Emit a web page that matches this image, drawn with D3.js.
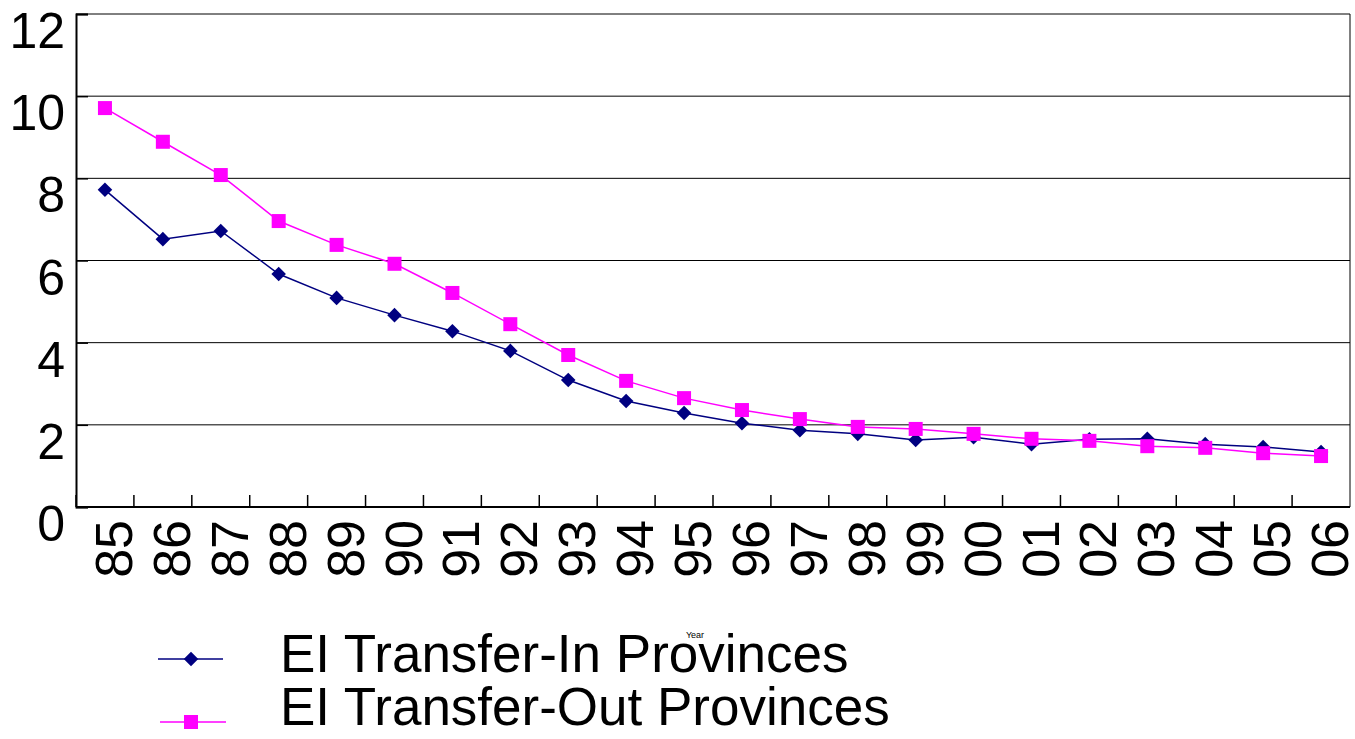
<!DOCTYPE html>
<html>
<head>
<meta charset="utf-8">
<script src="https://cdn.jsdelivr.net/npm/d3@7"></script>
<style>
  html, body { margin: 0; padding: 0; background: #fff; }
  svg { display: block; }
  text { font-family: "Liberation Sans", Arial, sans-serif; fill: #000; }
</style>
</head>
<body>
<svg id="chart" width="1355" height="739"></svg>
<script>
const years = ["85","86","87","88","89","90","91","92","93","94","95","96","97","98","99","00","01","02","03","04","05","06"];
const transferIn  = [7.72,6.52,6.72,5.67,5.09,4.67,4.28,3.80,3.09,2.58,2.29,2.04,1.87,1.78,1.63,1.70,1.53,1.65,1.66,1.53,1.46,1.34];
const transferOut = [9.71,8.89,8.08,6.96,6.38,5.92,5.21,4.45,3.70,3.07,2.65,2.36,2.14,1.95,1.90,1.78,1.66,1.61,1.48,1.44,1.31,1.24];
const yTicks = [0,2,4,6,8,10,12];
const seriesNames = ["EI Transfer-In Provinces","EI Transfer-Out Provinces"];
const xTitle = "Year";

const svg = d3.select("#chart");
const L = 76, R = 1350, T = 14, B = 507;

const x = d3.scaleBand().domain(years).range([L, R]).padding(0);
const y = d3.scaleLinear().domain([0, 12]).range([B, T]);

// gridlines
svg.append("g").selectAll("line").data(yTicks.filter(d => d > 0)).join("line")
  .attr("x1", L).attr("x2", R)
  .attr("y1", d => y(d)).attr("y2", d => y(d))
  .attr("stroke", "#000").attr("stroke-width", 1);

// right border
svg.append("line").attr("x1", R).attr("x2", R).attr("y1", T).attr("y2", B)
  .attr("stroke", "#000").attr("stroke-width", 1);

// y axis
const yAxis = d3.axisLeft(y).tickValues(yTicks).tickSize(-12).tickFormat("");
const gy = svg.append("g").attr("transform", `translate(${L},0)`).call(yAxis);
gy.select(".domain").attr("stroke", "#000").attr("stroke-width", 2);
gy.selectAll(".tick line").attr("stroke", "#000").attr("stroke-width", 1.5);

svg.append("g").selectAll("text").data(yTicks).join("text")
  .attr("x", 65).attr("y", d => y(d) + 34)
  .attr("text-anchor", "end")
  .attr("font-size", 50)
  .text(d => d);

// x axis
const gx = svg.append("g").attr("transform", `translate(0,${B})`);
gx.append("line").attr("x1", L).attr("x2", R).attr("stroke", "#000").attr("stroke-width", 2);
const bounds = years.map(d => x(d));
gx.selectAll("line.tk").data(bounds).join("line").attr("class", "tk")
  .attr("x1", d => d).attr("x2", d => d).attr("y1", 0).attr("y2", -12)
  .attr("stroke", "#000").attr("stroke-width", 1.5);

svg.append("g").selectAll("text").data(years).join("text")
  .attr("transform", d => `translate(${x(d) + x.bandwidth()/2 + 27},520) rotate(-90)`)
  .attr("text-anchor", "end")
  .attr("font-size", 52)
  .text(d => d);

// axis title (tiny)
svg.append("text").attr("x", 695).attr("y", 638).attr("text-anchor", "middle")
  .attr("font-size", 9).text(xTitle);

// lines
const cx = d => x(d) + x.bandwidth()/2;
const line = d3.line().x(d => cx(d[0])).y(d => y(d[1]));
const dataIn = years.map((d, i) => [d, transferIn[i]]);
const dataOut = years.map((d, i) => [d, transferOut[i]]);

svg.append("path").datum(dataIn).attr("d", line).attr("fill", "none")
  .attr("stroke", "#000080").attr("stroke-width", 1.5);
svg.append("g").selectAll("path").data(dataIn).join("path")
  .attr("d", d3.symbol(d3.symbolSquare, 106)())
  .attr("transform", d => `translate(${cx(d[0])},${y(d[1])}) rotate(45)`)
  .attr("fill", "#000080");

svg.append("path").datum(dataOut).attr("d", line).attr("fill", "none")
  .attr("stroke", "#ff00ff").attr("stroke-width", 1.5);
svg.append("g").selectAll("rect").data(dataOut).join("rect")
  .attr("x", d => cx(d[0]) - 7).attr("y", d => y(d[1]) - 7)
  .attr("width", 14).attr("height", 14)
  .attr("fill", "#ff00ff");

// legend
const leg = svg.append("g");
const legY = [659, 722];
leg.append("line").attr("x1", 158).attr("x2", 223).attr("y1", legY[0]).attr("y2", legY[0])
  .attr("stroke", "#000080").attr("stroke-width", 1.5);
leg.append("path").attr("d", d3.symbol(d3.symbolSquare, 106)())
  .attr("transform", `translate(191,${legY[0]}) rotate(45)`).attr("fill", "#000080");
leg.append("line").attr("x1", 160).attr("x2", 226).attr("y1", legY[1]).attr("y2", legY[1])
  .attr("stroke", "#ff00ff").attr("stroke-width", 1.5);
leg.append("rect").attr("x", 184).attr("y", legY[1] - 7).attr("width", 14).attr("height", 14)
  .attr("fill", "#ff00ff");
leg.selectAll("text").data(seriesNames).join("text")
  .attr("x", 280).attr("y", (d, i) => [672, 725][i])
  .attr("font-size", 53)
  .text(d => d);
</script>
</body>
</html>
